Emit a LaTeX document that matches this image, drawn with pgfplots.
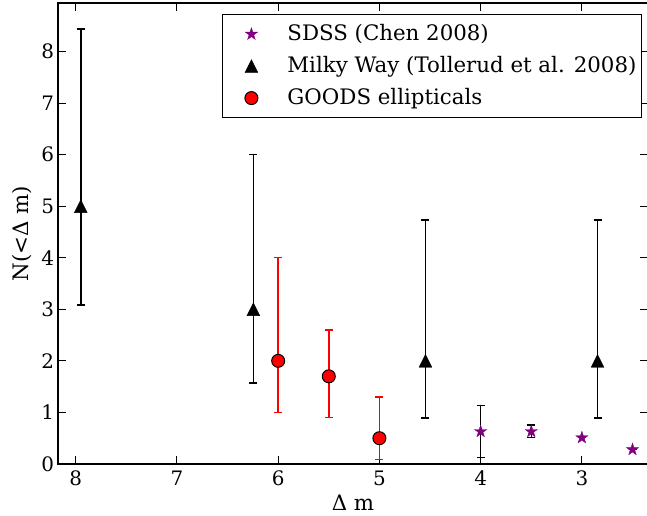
\documentclass[border=0pt]{standalone}
\usepackage{fontspec}
\setmainfont{DejaVu Serif}
\usepackage{pgfplots}
\pgfplotsset{compat=1.18}
\usetikzlibrary{calc}
\definecolor{mplpurple}{HTML}{800080}
\definecolor{mplred}{HTML}{FF0000}
\pgfdeclareplotmark{fstar}{%
  \pgfpathmoveto{\pgfpointpolar{90}{\pgfplotmarksize}}%
  \pgfpathlineto{\pgfpointpolar{126}{0.382\pgfplotmarksize}}%
  \pgfpathlineto{\pgfpointpolar{162}{\pgfplotmarksize}}%
  \pgfpathlineto{\pgfpointpolar{198}{0.382\pgfplotmarksize}}%
  \pgfpathlineto{\pgfpointpolar{234}{\pgfplotmarksize}}%
  \pgfpathlineto{\pgfpointpolar{270}{0.382\pgfplotmarksize}}%
  \pgfpathlineto{\pgfpointpolar{306}{\pgfplotmarksize}}%
  \pgfpathlineto{\pgfpointpolar{342}{0.382\pgfplotmarksize}}%
  \pgfpathlineto{\pgfpointpolar{18}{\pgfplotmarksize}}%
  \pgfpathlineto{\pgfpointpolar{54}{0.382\pgfplotmarksize}}%
  \pgfpathclose\pgfusepathqfillstroke}
\pgfdeclareplotmark{mpltri}{%
  \pgfpathmoveto{\pgfqpoint{0pt}{\pgfplotmarksize}}%
  \pgfpathlineto{\pgfqpoint{-\pgfplotmarksize}{-\pgfplotmarksize}}%
  \pgfpathlineto{\pgfqpoint{\pgfplotmarksize}{-\pgfplotmarksize}}%
  \pgfpathclose\pgfusepathqfillstroke}
\begin{document}
\begin{tikzpicture}
\begin{axis}[
  scale only axis, width=295bp, height=230.5bp,
  x dir=reverse, xmin=2.347, xmax=8.175, ymin=0, ymax=8.94,
  xtick={3,4,5,6,7,8}, ytick={0,1,...,8},
  tick align=inside, major tick length=4bp,
  axis line style={line width=1bp},
  every tick/.style={black, line width=0.5bp},
  tick label style={font=\fontsize{10}{12}\selectfont},
  yticklabel style={xshift=1.5bp},
  /pgf/number format/assume math mode=true,
  xlabel={Δ m}, ylabel={N(<Δ m)},
  label style={font=\fontsize{10.7}{13}\selectfont},
  xlabel style={at={(axis description cs:0.5,-0.084)}, anchor=center},
  ylabel style={at={(axis description cs:-0.061,0.5)}, anchor=center},
  legend cell align=left,
  legend image code/.code={\path[draw=none,fill=none] (0bp,-1bp) rectangle (30bp,1bp); \draw[#1] plot coordinates {(14bp,0bp)};},
  legend style={at={(1,1)}, anchor=north east, xshift=-3bp, yshift=-5.5bp,
    font=\fontsize{10.7}{13}\selectfont, draw=black, line width=0.6bp,
    row sep=2.4bp, inner xsep=0.5bp, inner ysep=3bp},
  error bars/y dir=both, error bars/y explicit,
]
\addplot[only marks, mark=fstar, mark size=3.2bp, color=mplpurple,
  mark options={fill=mplpurple, draw=mplpurple, line width=0.2bp},
  error bars/error bar style={black, line width=0.75bp},
  error bars/error mark=|,
  error bars/error mark options={black, mark size=2bp, line width=0.75bp}]
  coordinates {
  (4,0.63) += (0,0.50) -= (0,0.50)
  (3.5,0.63) += (0,0.13) -= (0,0.12)
  (3,0.51) += (0,0) -= (0,0)
  (2.5,0.28) += (0,0) -= (0,0)
  };
\addlegendentry{SDSS (Chen 2008)}
\addplot[only marks, mark=mpltri, mark size=3.2bp, color=black,
  mark options={fill=black, draw=black, line width=0.2bp},
  error bars/error bar style={black, line width=0.75bp},
  error bars/error mark=|,
  error bars/error mark options={black, mark size=2bp, line width=0.75bp}]
  coordinates {
  (7.95,5) += (0,3.44) -= (0,1.92)
  (6.245,3) += (0,3.0) -= (0,1.43)
  (4.545,2) += (0,2.73) -= (0,1.11)
  (2.845,2) += (0,2.73) -= (0,1.11)
  };
\addlegendentry{Milky Way (Tollerud et al. 2008)}
\addplot[only marks, mark=*, mark size=3.25bp, color=mplred,
  mark options={fill=mplred, draw=black, line width=0.5bp},
  error bars/error bar style={mplred, line width=0.75bp},
  error bars/error mark=|,
  error bars/error mark options={mplred, mark size=2bp, line width=0.75bp}]
  coordinates {
  (6,2) += (0,2) -= (0,1)
  (5.5,1.7) += (0,0.9) -= (0,0.8)
  (5,0.5) += (0,0.8) -= (0,0.41)
  };
\addlegendentry{GOODS ellipticals}
\end{axis}
\pgfresetboundingbox
\path ($(current axis.south west)+(-29bp,-26bp)$) rectangle ($(current axis.north east)+(-0.5bp,1.5bp)$);
\end{tikzpicture}
\end{document}
